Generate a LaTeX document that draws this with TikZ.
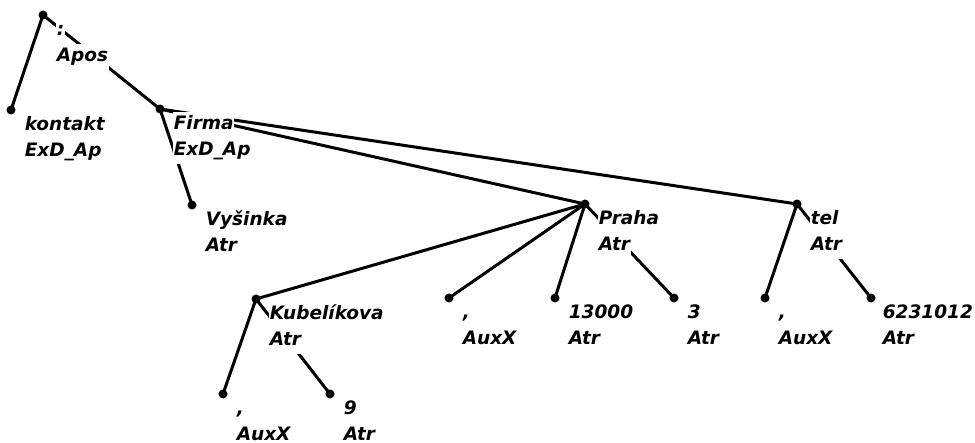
\documentclass[tikz,border=0pt]{standalone}
\usepackage{fontspec}
\newfontfamily\labfamily{DejaVu Sans}
\usetikzlibrary{calc}
\tikzset{
  dot/.style={circle, fill=black, inner sep=0pt, minimum size=9pt},
  edge/.style={line width=3pt, black},
  lab/.style={font=\labfamily\bfseries\itshape\fontsize{18.5}{24}\selectfont,
    inner xsep=0.6pt, inner ysep=0pt, text height=17.5pt, text depth=8.5pt,
    fill=white, anchor=base west},
}
\newcommand{\twolab}[5][13]{%
  \node[lab] (#2a) at ($(#3)+(#1,21)$) {#4};
  \node[lab] (#2b) at ($(#3)+(#1,47)$) {#5};}
\begin{document}
\begin{tikzpicture}[x=1pt, y=-1pt]
\useasboundingbox (0,0) rectangle (975,443);
% nodes (dots)
\node[dot] (root) at (43,15) {};
\node[dot] (kontakt) at (11,110) {};
\node[dot] (firma) at (160,109) {};
\node[dot] (vysinka) at (192,205) {};
\node[dot] (praha) at (585,204) {};
\node[dot] (tel) at (797,204) {};
\node[dot] (kub) at (256,299) {};
\node[dot] (commaA) at (223,394) {};
\node[dot] (nine) at (330,394) {};
\node[dot] (commaB) at (449,298) {};
\node[dot] (zip) at (555,298) {};
\node[dot] (three) at (674,298) {};
\node[dot] (commaC) at (765,298) {};
\node[dot] (phone) at (871,298) {};
% edges
\draw[edge] (root.center) -- (kontakt.center);
\draw[edge] (root.center) -- (firma.center);
\draw[edge] (firma.center) -- (vysinka.center);
\draw[edge] (firma.center) -- (praha.center);
\draw[edge] (firma.center) -- (tel.center);
\draw[edge] (praha.center) -- (kub.center);
\draw[edge] (praha.center) -- (commaB.center);
\draw[edge] (praha.center) -- (zip.center);
\draw[edge] (praha.center) -- (three.center);
\draw[edge] (kub.center) -- (commaA.center);
\draw[edge] (kub.center) -- (nine.center);
\draw[edge] (tel.center) -- (commaC.center);
\draw[edge] (tel.center) -- (phone.center);
% labels
\twolab{rootL}{root}{:}{Apos}
\twolab{kontaktL}{kontakt}{kontakt}{ExD\_Ap}
\twolab{firmaL}{firma}{Firma}{ExD\_Ap}
\twolab{vysinkaL}{vysinka}{Vyšinka}{Atr}
\twolab{prahaL}{praha}{Praha}{Atr}
\twolab{telL}{tel}{tel}{Atr}
\twolab{kubL}{kub}{Kubelíkova}{Atr}
\twolab{commaAL}{commaA}{,}{AuxX}
\twolab{nineL}{nine}{9}{Atr}
\twolab{commaBL}{commaB}{,}{AuxX}
\twolab{zipL}{zip}{13000}{Atr}
\twolab{threeL}{three}{3}{Atr}
\twolab{commaCL}{commaC}{,}{AuxX}
\twolab[11]{phoneL}{phone}{6231012}{Atr}
\end{tikzpicture}
\end{document}
